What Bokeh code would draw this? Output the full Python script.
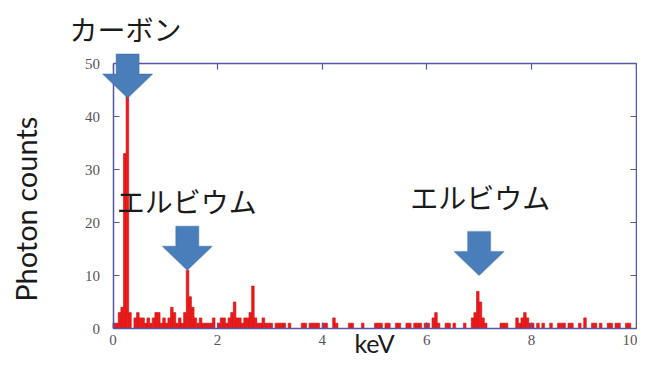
import math
from bokeh.plotting import figure
from bokeh.models import Label, PolyAnnotation, LinearAxis, FixedTicker, Range1d
from bokeh.embed import file_html
from bokeh.resources import INLINE

# ---------------- data ----------------
bin_width = 0.05  # keV
energy = [0.00, 0.05, 0.10, 0.15, 0.20, 0.25, 0.30, 0.40, 0.45, 0.50, 0.55, 0.60,
          0.65, 0.70, 0.75, 0.80, 0.85, 0.90, 0.95, 1.00, 1.05, 1.10, 1.15, 1.20,
          1.25, 1.30, 1.35, 1.40, 1.45, 1.50, 1.55, 1.60, 1.65, 1.70, 1.75, 1.80,
          1.85, 1.90, 2.00, 2.05, 2.10, 2.15, 2.20, 2.25, 2.30, 2.35, 2.40, 2.45,
          2.50, 2.55, 2.60, 2.65, 2.70, 2.75, 2.80, 2.85, 2.90, 2.95, 3.00, 3.10,
          3.15, 3.20, 3.25, 3.35, 3.60, 3.65, 3.75, 3.80, 3.85, 3.90, 4.00, 4.05,
          4.20, 4.25, 4.50, 4.55, 4.75, 5.00, 5.05, 5.10, 5.20, 5.25, 5.40, 5.45,
          5.60, 5.65, 5.75, 5.80, 5.85, 5.95, 6.00, 6.10, 6.15, 6.20, 6.35, 6.40,
          6.50, 6.70, 6.85, 6.90, 6.95, 7.00, 7.05, 7.10, 7.40, 7.45, 7.50, 7.70,
          7.75, 7.80, 7.85, 7.90, 7.95, 8.00, 8.10, 8.20, 8.35, 8.50, 8.55, 8.60,
          8.70, 8.75, 8.90, 9.00, 9.15, 9.20, 9.30, 9.45, 9.50, 9.60, 9.65, 9.80,
          9.85]
counts = [1, 1, 3, 4, 33, 44, 3, 2, 3, 2, 2, 1,
          2, 1, 2, 3, 3, 1, 2, 1, 2, 4, 3, 1,
          2, 1, 3, 11, 6, 4, 2, 1, 2, 1, 1, 1,
          1, 2, 1, 2, 2, 1, 2, 3, 5, 2, 2, 1,
          2, 2, 3, 8, 2, 1, 1, 2, 1, 1, 1, 1,
          1, 1, 1, 1, 1, 1, 1, 1, 1, 1, 1, 1,
          2, 1, 1, 1, 1, 1, 1, 1, 1, 1, 1, 1,
          1, 1, 1, 1, 1, 1, 1, 2, 3, 1, 1, 1,
          1, 1, 2, 3, 7, 5, 2, 1, 1, 1, 1, 2,
          1, 2, 3, 2, 1, 1, 1, 1, 1, 1, 1, 1,
          1, 1, 1, 2, 1, 1, 1, 1, 1, 1, 1, 1,
          1]

x_ticks = [0, 2, 4, 6, 8, 10]
y_ticks = [0, 10, 20, 30, 40, 50]
x_lim = (0, 10)
y_lim = (0, 50)

arrow_energy = [0.28, 1.42, 7.0]
arrow_tip = [43.5, 11.0, 10.0]
labels = ["カーボン", "エルビウム", "エルビウム"]
label_energy = [0.24, 1.41, 7.02]
label_count = [56.6, 24.0, 24.9]

# ---------------- layout (pixels on the canvas) ----------------
W, H = 637, 356
BOX_L, BOX_R = 112.5, 635.5     # canvas x of keV 0 and 10
BOX_T, BOX_B = 63.0, 328.0      # canvas y of counts 50 and 0
px_x = (BOX_R - BOX_L) / (x_lim[1] - x_lim[0])
px_y = (BOX_B - BOX_T) / (y_lim[1] - y_lim[0])
xr = Range1d(x_lim[0] - BOX_L / px_x, x_lim[1] + (W - BOX_R) / px_x)
yr = Range1d(y_lim[0] - (H - BOX_B) / px_y, y_lim[1] + BOX_T / px_y)

p = figure(width=W, height=H, x_range=xr, y_range=yr,
           min_border=0, min_border_left=0, min_border_right=0,
           min_border_top=0, min_border_bottom=0,
           output_backend="svg", toolbar_location=None,
           background_fill_color="white", border_fill_color="white",
           x_axis_type=None, y_axis_type=None)
p.outline_line_color = None
p.xgrid.visible = False
p.ygrid.visible = False

AXIS_COLOR = "#5656a6"

def make_axis(ticks, bounds, loc, show_labels):
    ax = LinearAxis(fixed_location=loc, bounds=bounds)
    ax.ticker = FixedTicker(ticks=ticks)
    ax.axis_line_color = AXIS_COLOR
    ax.axis_line_width = 1.5
    ax.major_tick_line_color = AXIS_COLOR
    ax.major_tick_line_width = 1.2
    ax.major_tick_in = 6
    ax.major_tick_out = 0
    ax.minor_tick_line_color = None
    ax.major_label_text_font = "Liberation Serif"
    ax.major_label_text_font_size = "15px"
    ax.major_label_text_color = "#555555"
    if not show_labels:
        ax.major_label_overrides = {t: "" for t in ticks}
        ax.major_label_standoff = 0
    return ax

bottom_ax = make_axis(x_ticks, x_lim, y_lim[0], True)
bottom_ax.major_label_standoff = 6
left_ax = make_axis(y_ticks, y_lim, x_lim[0], True)
left_ax.major_label_standoff = 13
top_ax = make_axis(x_ticks, x_lim, y_lim[1], False)
right_ax = make_axis(y_ticks, y_lim, x_lim[1], False)
p.add_layout(bottom_ax, "below")
p.add_layout(left_ax, "left")
p.add_layout(top_ax, "above")
p.add_layout(right_ax, "right")

# spectrum
right_edges = [e + bin_width for e in energy]
p.quad(left=energy, right=right_edges, bottom=0, top=counts,
       fill_color="#ee1a1a", line_color="#d01010", line_width=0.6)

# arrows (block arrows, shape in pixels)
SHAFT_W, HEAD_W, HEAD_H, SHAFT_H = 23, 50, 24, 20
for ex, ty in zip(arrow_energy, arrow_tip):
    dx_s = SHAFT_W / 2 / px_x
    dx_h = HEAD_W / 2 / px_x
    dy_h = HEAD_H / px_y
    dy_s = SHAFT_H / px_y
    xs = [ex, ex - dx_h, ex - dx_s, ex - dx_s, ex + dx_s, ex + dx_s, ex + dx_h]
    ys = [ty, ty + dy_h, ty + dy_h, ty + dy_h + dy_s, ty + dy_h + dy_s, ty + dy_h, ty + dy_h]
    p.add_layout(PolyAnnotation(xs=xs, ys=ys, fill_color="#4a7ebb", fill_alpha=1.0,
                                line_color="#3a659a", line_width=1.5))

for t, ex, ey in zip(labels, label_energy, label_count):
    p.add_layout(Label(x=ex, y=ey, text=t, text_align="center", text_baseline="middle",
                       text_font="Noto Sans CJK JP", text_font_size="28px",
                       text_color="#1a1a1a"))

# axis titles
p.add_layout(Label(x=-1.67, y=22.5, text="Photon counts", angle=math.pi / 2,
                   text_align="center", text_baseline="middle",
                   text_font="Lato", text_font_size="29px", text_color="#1a1a1a"))
p.add_layout(Label(x=5.0, y=-2.7, text="keV", text_align="center",
                   text_baseline="alphabetic",
                   text_font="Lato", text_font_size="25px", text_color="#1a1a1a"))

open("out.html", "w").write(file_html(p, INLINE))
